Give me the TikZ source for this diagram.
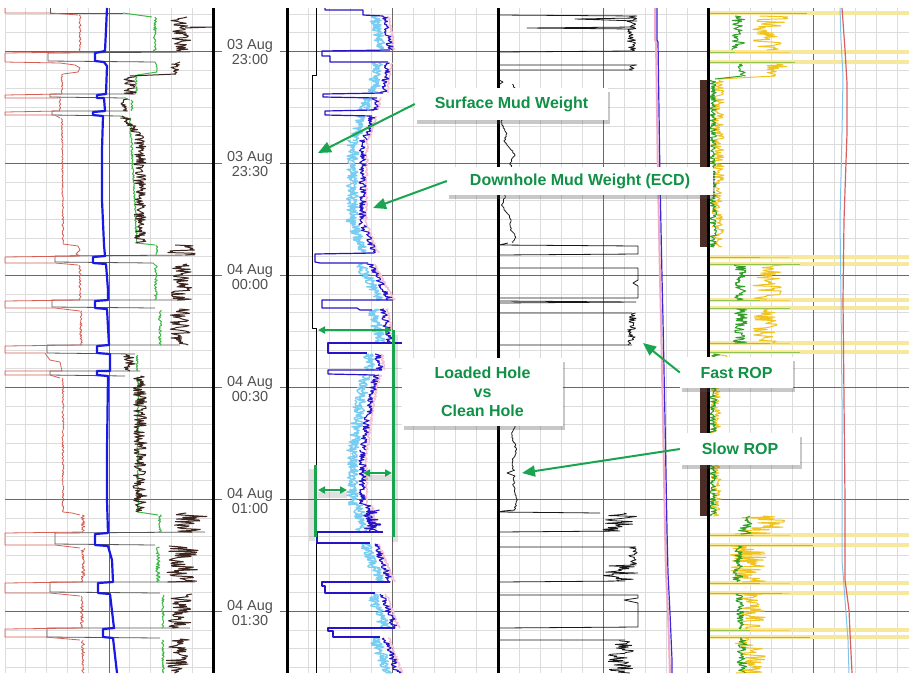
\documentclass[tikz,border=0pt]{standalone}
\usepackage{fontspec}
\setmainfont{Liberation Sans}
\usetikzlibrary{arrows.meta,shadows}
\definecolor{gridl}{RGB}{220,220,220}
\definecolor{gridd}{RGB}{105,105,105}
\definecolor{cred}{RGB}{214,95,85}
\definecolor{cblue}{RGB}{25,25,230}
\definecolor{cgreen}{RGB}{60,185,70}
\definecolor{cbrown}{RGB}{62,38,32}
\definecolor{cgray}{RGB}{85,85,85}
\definecolor{ecddark}{RGB}{40,20,200}
\definecolor{ecdlight}{RGB}{120,205,242}
\definecolor{ecdpink}{RGB}{245,190,210}
\definecolor{anng}{RGB}{25,165,80}
\definecolor{txtg}{RGB}{16,145,70}
\definecolor{ylw}{RGB}{240,195,30}
\definecolor{ylwl}{RGB}{247,232,160}
\definecolor{gfour}{RGB}{50,160,40}
\definecolor{golive}{RGB}{150,195,80}
\definecolor{barb}{RGB}{75,45,38}
\definecolor{purp}{RGB}{60,40,215}
\definecolor{pinkl}{RGB}{240,170,200}
\definecolor{rfour}{RGB}{220,95,95}
\definecolor{bfour}{RGB}{130,195,232}
\definecolor{tgray}{RGB}{80,80,80}
\newcommand\nzl[6]{%
  \pgfmathtruncatemacro\nzs{abs((#3)-(#2))/0.9+2}%
  \draw[#1] plot[variable=\t, domain=#2:#3, samples=\nzs] ({(#4)+((#5)-(#4))*(\t-(#2))/((#3)-(#2))+(#6)*rand}, \t);%
}
\newcommand\nz[5]{\nzl{#1}{#2}{#3}{#4}{#4}{#5}}
\newcommand\ecd[4]{%
  \nzl{ecdp}{#1}{#2}{(#3)+4}{(#4)+4}{1.5}%
  \nzl{ecdl}{#1}{#2}{(#3)-11}{(#4)-11}{5}%
  \nzl{ecdl}{#1}{#2}{(#3)-8}{(#4)-8}{4}%
  \nzl{ecdd}{#1}{#2}{#3}{#4}{3.5}%
}
\begin{document}
\begin{tikzpicture}[x=1pt,y=-1pt,line join=round,
  gminor/.style={draw=gridl,line width=1},
  gmajor/.style={draw=gridd,line width=1},
  border/.style={draw=black,line width=3},
  redc/.style={draw=cred,line width=0.8},
  grayc/.style={draw=cgray,line width=0.8},
  bluec/.style={draw=cblue,line width=2.2},
  greenc/.style={draw=cgreen,line width=1},
  brownc/.style={draw=cbrown,line width=1},
  ecdp/.style={draw=ecdpink,line width=1.4},
  ecdl/.style={draw=ecdlight,line width=1.3},
  ecdd/.style={draw=ecddark,line width=1.1},
  ecdc/.style={draw=ecddark,line width=1.2},
  smw/.style={draw=black,line width=0.8},
  rop/.style={draw=black!90,line width=0.8},
  ylc/.style={draw=ylw,line width=1},
  gfc/.style={draw=gfour,line width=1},
  yband/.style={draw=ylwl,line width=3.5},
  gband/.style={draw=golive,line width=1},
  tlab/.style={font=\fontsize{14.5}{15}\selectfont,text=tgray,align=center,inner sep=0pt},
  lbox/.style={fill=white,inner sep=0pt,font=\fontsize{16}{18}\selectfont\bfseries,text=txtg,align=center,
     drop shadow={shadow xshift=2pt,shadow yshift=-4pt,opacity=0.3,fill=black!70}},
  garr/.style={draw=anng,line width=2,-{Triangle[length=13pt,width=11pt]}},
  gdbl/.style={draw=anng,line width=2,{Triangle[length=7pt,width=7pt]}-{Triangle[length=7pt,width=7pt]}},
  gbar/.style={draw=anng,line width=3},
  gshad/.style={draw=black,opacity=0.12,line width=6}
]
\useasboundingbox (0,0) rectangle (909,673);
\fill[white] (0,0) rectangle (909,673);
\pgfmathsetseed{4711}
% ---------------- grid
\draw[gminor] (5,8) -- (5,673);
\foreach \L/\w in {5/20.8,287/21.1,498/21,708/21.1}{
  \foreach \k in {1,2,3,4,6,7,8,9}{
    \draw[gminor] ({\L+\k*\w},8) -- ({\L+\k*\w},673);
  }
}
\foreach \k in {0,...,35}{
  \pgfmathsetmacro\yy{14.2+18.667*\k}
  \draw[gminor] (5,\yy) -- (213,\yy);
  \draw[gminor] (287,\yy) -- (909,\yy);
}
\foreach \L/\w in {5/20.8,287/21.1,498/21,708/21.1}{
  \draw[gmajor] ({\L+5*\w},8) -- ({\L+5*\w},673);
}
\foreach \y in {51.5,163.5,275.5,387.5,499.5,611.5}{
  \draw[gmajor] (5,\y) -- (213,\y);
  \draw[gmajor] (287,\y) -- (909,\y);
  \draw[gmajor] (213,\y) -- (222,\y);
  \draw[gmajor] (280,\y) -- (287,\y);
}
% ---------------- track 1
% gray
\draw[grayc] (50,8)--(50,13)--(123,13);
\draw[grayc] (190,52)--(48,53)--(48,61)--(155,62);
\draw[grayc] (135,94)--(50,94)--(50,97)--(125,98);
\draw[grayc] (128,111)--(52,111)--(52,115)--(120,116);
\draw[grayc] (195,255)--(55,256)--(55,262)--(153,263);
\draw[grayc] (185,300)--(52,300)--(52,307)--(155,308);
\draw[grayc] (180,345)--(47,345)--(47,353)--(135,354);
\draw[grayc] (140,371)--(50,371)--(50,375)--(125,376);
\draw[grayc] (205,532)--(55,533)--(55,544)--(155,545);
\draw[grayc] (195,582)--(50,582)--(50,592)--(160,593);
\draw[grayc] (190,628)--(47,628)--(47,637)--(160,638);
% red
\draw[redc] (5,8)--(5,13)--(50,13)--(78,15);
\nz{redc}{15}{52}{80}{1}
\draw[redc] (80,52)--(5,53)--(5,62)--(60,63)--(75,65)--(80,68)--(78,72)--(63,74);
\nz{redc}{74}{94}{62}{0.8}
\draw[redc] (62,94)--(5,95)--(5,98)--(58,98);
\nz{redc}{98}{111}{60}{0.8}
\draw[redc] (60,111)--(5,112)--(5,115)--(55,115)--(60,118);
\nzl{redc}{118}{244}{62}{63}{0.8}
\draw[redc] (63,244)--(78,246)--(80,250)--(76,254)--(80,256)--(5,257)--(5,263)--(55,263)--(78,265);
\nz{redc}{265}{300}{80}{1.2}
\draw[redc] (80,300)--(5,301)--(5,308)--(55,308)--(80,311);
\nz{redc}{311}{345}{81}{1.3}
\draw[redc] (81,345)--(5,346)--(5,353)--(45,353)--(47,356)--(50,360)--(60,362)--(62,371)--(5,371)--(5,375)--(50,375)--(60,378);
\nz{redc}{378}{512}{63}{1}
\draw[redc] (63,512)--(72,513)--(80,515);
\nz{redc}{515}{532}{83}{2}
\draw[redc] (83,532)--(5,533)--(5,545)--(55,545)--(80,548);
\nz{redc}{548}{582}{83}{2}
\draw[redc] (83,582)--(5,583)--(5,593)--(50,593)--(80,596);
\nz{redc}{596}{628}{82}{1.5}
\draw[redc] (82,628)--(5,629)--(5,637)--(45,637)--(80,640);
\nz{redc}{640}{673}{83}{1.5}
% green
\draw[greenc] (123,13)--(152,17);
\nz{greenc}{17}{52}{155}{1.5}
\draw[greenc] (155,62)--(157,66);
\nz{greenc}{66}{72}{157}{1}
\draw[greenc] (157,72)--(137,75);
\nz{greenc}{75}{94}{136}{1.2}
\draw[greenc] (125,98)--(130,100);
\nz{greenc}{100}{111}{132}{1}
\draw[greenc] (120,116)--(128,118);
\nzl{greenc}{118}{243}{130}{137}{1}
\draw[greenc] (137,243)--(155,245);
\nz{greenc}{245}{255}{157}{1}
\draw[greenc] (153,263)--(155,265);
\nz{greenc}{265}{300}{156}{1.5}
\nz{greenc}{310}{345}{160}{1.5}
\nz{greenc}{355}{371}{137}{1}
\nz{greenc}{377}{512}{138}{1}
\draw[greenc] (138,512)--(158,515);
\nz{greenc}{515}{532}{160}{1.5}
\nz{greenc}{547}{582}{158}{2}
\nz{greenc}{595}{628}{163}{1.2}
\nz{greenc}{640}{673}{163}{1.2}
% brown
\nz{brownc}{17}{51}{181}{10}
\draw[brownc] (190,27)--(212,27)--(185,28);
\draw[brownc] (180,62)--(175,64);
\nz{brownc}{64}{74}{176}{6}
\draw[brownc] (176,74)--(130,76);
\nz{brownc}{76}{94}{130}{6}
\nz{brownc}{99}{111}{124}{4}
\draw[brownc] (122,116)--(125,118);
\nzl{brownc}{118}{135}{125}{138}{5}
\nz{brownc}{135}{243}{140}{6}
\nz{brownc}{245}{255}{180}{15}
\nz{brownc}{264}{300}{180}{12}
\nz{brownc}{309}{345}{180}{10}
\nz{brownc}{354}{371}{130}{7}
\nz{brownc}{376}{512}{140}{7}
\nz{brownc}{513}{532}{190}{17}
\nz{brownc}{546}{582}{183}{16}
\nz{brownc}{594}{628}{180}{12}
\nz{brownc}{639}{673}{178}{12}
% blue
\draw[bluec] (107,8)--(106,30)--(105,51)--(95,53)--(95,61)--(104,62)--(107,66)--(106,94)--(97,95)--(97,98)--(104,98)--(105,111)--(93,112)--(93,115)--(103,116)--(102,150)--(102,200)--(104,245)--(105,256)--(93,257)--(93,263)--(106,264)--(108,290)--(108,300)--(95,301)--(95,308)--(107,309)--(109,345)--(97,346)--(97,353)--(110,354)--(110,371)--(97,371)--(97,375)--(108,376)--(107,450)--(107,500)--(108,533)--(95,534)--(95,545)--(108,546)--(112,560)--(113,582)--(98,583)--(98,593)--(110,594)--(114,628)--(103,629)--(103,637)--(113,638)--(117,673);
% ---------------- track 2
\draw[smw] (316,8)--(316,75)--(312,75)--(312,328)--(316,328)--(316,673);
\ecd{16}{50}{385}{390}
\ecd{63}{93}{388}{383}
\ecd{98}{110}{376}{374}
\ecd{116}{140}{372}{365}
\ecd{140}{225}{363}{362}
\ecd{225}{253}{363}{374}
\ecd{264}{300}{370}{390}
\ecd{309}{343}{383}{390}
\ecd{354}{370}{378}{380}
\ecd{375}{400}{376}{370}
\ecd{400}{450}{370}{363}
\ecd{450}{505}{362}{363}
\ecd{505}{532}{368}{372}
\nz{ecdd}{510}{532}{372}{9}
\ecd{544}{582}{375}{390}
\ecd{594}{628}{382}{395}
\ecd{638}{673}{385}{398}
\draw[ecdc] (325,8)--(325,10)--(363,10)--(363,15)--(383,16);
\draw[ecdc] (390,50)--(322,51)--(322,56)--(330,56)--(330,62)--(388,62);
\draw[ecdc] (383,93)--(323,94)--(323,97)--(377,98);
\draw[ecdc] (374,110)--(325,111)--(325,115)--(372,116);
\draw[ecdc] (374,253)--(315,254)--(315,262)--(320,263)--(368,263);
\draw[ecdc] (392,300)--(322,300)--(322,308)--(357,308)--(360,310)--(372,310);
\draw[ecdc] (402,343)--(328,343)--(328,353)--(367,353);
\draw[ecdc] (382,370)--(328,370)--(328,374)--(375,375);
\draw[ecdc] (383,532)--(317,532)--(317,543)--(370,543);
\draw[ecdc] (390,582)--(322,582)--(322,586)--(325,586)--(325,593)--(375,593);
\draw[ecdc] (395,628)--(328,628)--(328,631)--(333,631)--(333,637)--(380,637);
% ---------------- track 3
\draw[rop] (499,8)--(499,15)--(637,16);
\nz{rop}{16}{51}{632}{5}
\draw[rop] (636,18)--(575,19)--(637,21);
\draw[rop] (635,27)--(527,28)--(633,29);
\draw[rop] (632,51)--(499,52)--(499,65)--(637,65);
\nz{rop}{65}{70}{633}{4}
\draw[rop] (633,70)--(499,70)--(499,80)--(503,82)--(500,84);
\draw[rop] plot[variable=\t,domain=84:243,samples=110] ({508+5*sin(\t*5)+2*sin(\t*17)+1.2*rand},\t);
\draw[rop] (508,243)--(499,245)--(638,246)--(638,254)--(499,255)--(499,268)--(638,268)--(638,280)--(633,283)--(638,286)--(638,298)--(499,298)--(499,301)--(636,302)--(499,303)--(499,313)--(632,313);
\nz{rop}{313}{345}{632}{5}
\draw[rop] (632,345)--(499,345)--(499,376)--(508,378);
\draw[rop] plot[variable=\t,domain=378:470,samples=60] ({514+2*sin(\t*13)+1*rand},\t);
\draw[rop] (515,470)--(507,473)--(515,476);
\draw[rop] plot[variable=\t,domain=476:510,samples=25] ({515+1.5*sin(\t*11)+1*rand},\t);
\draw[rop] (515,510)--(503,511)--(499,512)--(600,513);
\nz{rop}{513}{531}{620}{18}
\draw[rop] (620,531)--(499,532)--(499,547)--(636,547);
\nz{rop}{547}{565}{633}{4}
\nz{rop}{565}{581}{620}{18}
\draw[rop] (625,581)--(499,582)--(499,595)--(638,595)--(638,598)--(624,600)--(638,603)--(638,627)--(499,628)--(499,640)--(625,640);
\nz{rop}{640}{673}{622}{14}
\draw[draw=pinkl,line width=2] (655,8)--(655,40)--(656,42)--(658,180)--(660,277)--(661,320)--(663,420)--(665,530)--(666,573)--(668,613)--(670,673);
\draw[draw=purp,line width=1.2] (657,8)--(657,40)--(658,42)--(660,180)--(662,277)--(663,320)--(665,420)--(667,530)--(668,573)--(670,613)--(672,660)--(672,673);
% ---------------- track 4
\fill[barb] (700,80) rectangle (707,247);
\fill[barb] (700,388) rectangle (707,516);
\foreach \y in {13,52,62,257,264,300,308,343,352,535,545,583,593,630,637}{
  \draw[yband] (708,\y) -- (909,\y);
  \draw[draw=ylw,line width=1,opacity=0.6] (708,\y) -- (790,\y);
}
\foreach \y/\xe in {13/807,52/735,62/795,257/760,264/800,300/760,308/790,343/770,352/800,535/753,545/813,583/760,593/782,630/750,637/810}{
  \draw[gband] (708,\y) -- (\xe,\y);
}
\nz{ylc}{16}{50}{770}{18}
\nz{gfc}{16}{50}{738}{7}
\nz{ylc}{64}{76}{775}{12}
\nz{gfc}{64}{76}{742}{4}
\draw[ylc] (775,76)--(718,79);
\draw[gfc] (742,76)--(715,79);
\nz{ylc}{80}{247}{718}{6}
\nz{gfc}{80}{247}{713}{3.5}
\nz{ylc}{265}{300}{768}{15}
\nz{gfc}{265}{300}{740}{6}
\nz{ylc}{309}{343}{765}{12}
\nz{gfc}{309}{343}{740}{7}
\nz{ylc}{354}{388}{722}{8}
\nz{gfc}{354}{388}{716}{5}
\nz{ylc}{388}{516}{716}{5}
\nz{gfc}{388}{516}{713}{3.5}
\nz{ylc}{516}{534}{760}{25}
\nz{gfc}{516}{534}{745}{7}
\nz{ylc}{546}{582}{748}{18}
\nz{gfc}{546}{582}{738}{5}
\nz{ylc}{594}{629}{753}{14}
\nz{gfc}{594}{629}{740}{4}
\nz{ylc}{638}{673}{750}{16}
\nz{gfc}{638}{673}{742}{5}
\draw[draw=bfour,line width=1] (840,8)--(841,40)--(843,77)--(842,133)--(840,220)--(841,300)--(842,400)--(842,560)--(845,600)--(848,640)--(849,673);
\draw[draw=rfour,line width=1.2] (842,8)--(845,50)--(847,83)--(847,133)--(844,220)--(843,300)--(844,400)--(845,500)--(845,580)--(849,610)--(850,633)--(852,673);
% ---------------- borders
\foreach \x in {213,287,498,708}{\draw[border] (\x,8) -- (\x,673);}
% ---------------- time labels
\foreach \i/\y/\d/\h in {1/51.5/03 Aug/23:00,2/163.5/03 Aug/23:30,3/275.5/04 Aug/00:00,4/387.5/04 Aug/00:30,5/499.5/04 Aug/01:00,6/611.5/04 Aug/01:30}{
  \node[tlab] (tl\i) at (250,\y+1) {\d\\\h};
}
% ---------------- annotations (track 2 markers)
\coordinate (la1) at (318,330); \coordinate (la2) at (392,330);
\coordinate (vat) at (393,330); \coordinate (vab) at (393,537);
\coordinate (vbt) at (315,465); \coordinate (vbb) at (315,537);
\coordinate (da1) at (318,490); \coordinate (da2) at (347,490);
\coordinate (db1) at (363,473); \coordinate (db2) at (392,473);
\draw[gshad] ([shift={(-3,4)}]vbt) -- ([shift={(-3,4)}]vbb);
\draw[gshad] ([shift={(2,5)}]vat) -- ([shift={(2,5)}]vab);
\draw[gshad] ([shift={(0,5)}]da1) -- ([shift={(0,5)}]da2);
\draw[gshad] ([shift={(0,5)}]db1) -- ([shift={(0,5)}]db2);
\draw[gdbl] (la1) -- (la2);
\draw[gbar] (vat) -- (vab);
\draw[gbar] (vbt) -- (vbb);
\draw[gdbl] (da1) -- (da2);
\draw[gdbl] (db1) -- (db2);
% label boxes
\node[lbox,minimum width=193pt,minimum height=32pt] (smwl) at (511.5,104) {Surface Mud Weight};
\node[lbox,minimum width=266pt,minimum height=28pt] (dmwl) at (580,181) {Downhole Mud Weight (ECD)};
\node[lbox,minimum width=161pt,minimum height=68pt,font=\fontsize{16}{19}\selectfont\bfseries] (lhl) at (482.5,392) {Loaded Hole\\vs\\Clean Hole};
\node[lbox,minimum width=113pt,minimum height=31pt] (fastl) at (736.5,372.5) {Fast ROP};
\node[lbox,minimum width=120pt,minimum height=32pt] (slowl) at (740,449) {Slow ROP};
\coordinate (tsmw) at (318,153);
\coordinate (tdmw) at (373,208);
\coordinate (tfast) at (643,343);
\coordinate (tslow) at (522,473);
\draw[garr] (smwl.west) -- (tsmw);
\draw[garr] (dmwl.west) -- (tdmw);
\draw[garr] (fastl.west) -- (tfast);
\draw[garr] (slowl.west) -- (tslow);
\end{tikzpicture}
\end{document}
